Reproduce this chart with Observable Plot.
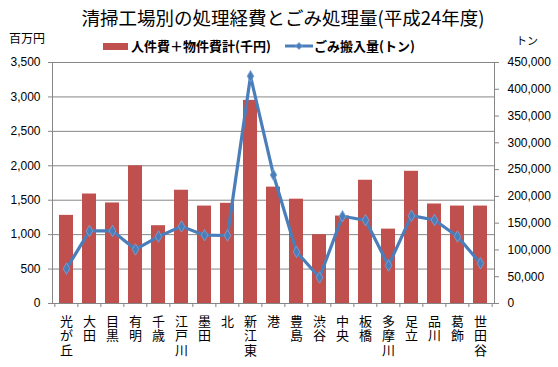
<!DOCTYPE html>
<html><head><meta charset="utf-8">
<script src="https://cdn.jsdelivr.net/npm/d3@7"></script>
<script src="https://cdn.jsdelivr.net/npm/@observablehq/plot@0.6"></script>
<style>
body{margin:0;background:#fff;}
#wrap{position:relative;width:558px;height:367px;font-family:"Noto Sans CJK JP",sans-serif;}
#wrap svg{position:absolute;left:0;top:0;}
.t{position:absolute;white-space:nowrap;color:#000;}
</style></head>
<body><div id="wrap">
<div class="t" id="title" style="left:4px;width:558px;text-align:center;top:5px;font-size:18.5px;line-height:24px;">清掃工場別の処理経費とごみ処理量(平成24年度)</div>
<div class="t" style="left:9px;top:30px;font-size:12px;line-height:16px;">百万円</div>
<div class="t" style="left:516px;top:33px;font-size:11px;line-height:14px;">トン</div>
<div class="t" style="left:103px;top:38px;font-size:13px;line-height:16px;font-weight:bold;"><span style="display:inline-block;width:25px;height:7px;background:#C0504D;vertical-align:middle;margin-right:3px;position:relative;top:-1px"></span>人件費＋物件費計(千円)</div>
<div class="t" style="left:285px;top:38px;font-size:13px;line-height:16px;font-weight:bold;"><svg width="28" height="10" style="position:relative;display:inline-block;vertical-align:middle;top:-1px;margin-right:1px"><line x1="0" y1="5" x2="28" y2="5" stroke="#4A7EBB" stroke-width="3"/><path d="M14 1.5L17.5 5L14 8.5L10.5 5Z" fill="#4A7EBB" stroke="#7FA5D5" stroke-width="0.8"/></svg>ごみ搬入量(トン)</div>
</div>
<script>
const names = ["光が丘","大田","目黒","有明","千歳","江戸川","墨田","北","新江東","港","豊島","渋谷","中央","板橋","多摩川","足立","品川","葛飾","世田谷"];
const costs = [1280,1590,1460,2000,1130,1645,1415,1455,2950,1690,1515,1000,1270,1790,1080,1920,1445,1415,1415];
const waste = [65000,135500,135500,101000,125000,144000,127500,127000,424500,240000,96500,48500,163000,155500,71000,164000,156000,125000,75000];
const leftTicks = [0,500,1000,1500,2000,2500,3000,3500];
const rightTicks = [0,50000,100000,150000,200000,250000,300000,350000,400000,450000];
const leftMax = 3500, rightMax = 450000;

const data = names.map((n,i)=>({name:n,cost:costs[i],waste:waste[i]}));
const conv = v => v*leftMax/rightMax;
const fmt = d3.format(",");
const step = (558-52-64)/names.length;

const chart = Plot.plot({
  width:558, height:367,
  marginLeft:52, marginRight:64, marginTop:62, marginBottom:64,
  style:{fontFamily:"'Liberation Sans', Arial, sans-serif", background:"transparent"},
  x:{domain:names, paddingInner:0.4, paddingOuter:0.2, axis:null, label:null},
  y:{domain:[0,leftMax], axis:null, label:null},
  marks:[
    Plot.gridY(leftTicks, {stroke:"#868686", strokeOpacity:1}),
    Plot.frame({stroke:"#868686"}),
    Plot.axisY(leftTicks, {anchor:"left", label:null, tickSize:4, tickPadding:8, stroke:"#868686", fill:"#000", fontSize:12, tickFormat:fmt}),
    Plot.axisY(rightTicks.map(conv), {anchor:"right", label:null, tickSize:4, tickPadding:9, stroke:"#868686", fill:"#000", fontSize:12, tickFormat:d=>fmt(Math.round(d*rightMax/leftMax))}),
    Plot.barY(data, {x:"name", y:"cost", fill:"#C0504D"}),
    Plot.axisX(names, {anchor:"bottom", label:null, tickSize:4, dx:-step/2, stroke:"#868686", tickFormat:()=>""}),
    Plot.axisX([names[names.length-1]], {anchor:"bottom", label:null, tickSize:4, dx:step/2, stroke:"#868686", tickFormat:()=>""}),
    Plot.axisX(names, {anchor:"bottom", label:null, tickSize:0, tickPadding:12, fontSize:13, lineHeight:1.12, fill:"#000",
      fontFamily:"'Noto Sans CJK JP', sans-serif", tickFormat:d=>d.split("").join("\n")}),
    Plot.line(data, {x:"name", y:d=>conv(d.waste), stroke:"#4A7EBB", strokeWidth:3.2, strokeLinejoin:"round"}),
    Plot.dot(data, {x:"name", y:d=>conv(d.waste), symbol:"diamond", r:3.5, fill:"#4A7EBB", stroke:"#7FA5D5", strokeWidth:0.8})
  ]
});
document.getElementById("wrap").prepend(chart);
</script>
</body></html>
